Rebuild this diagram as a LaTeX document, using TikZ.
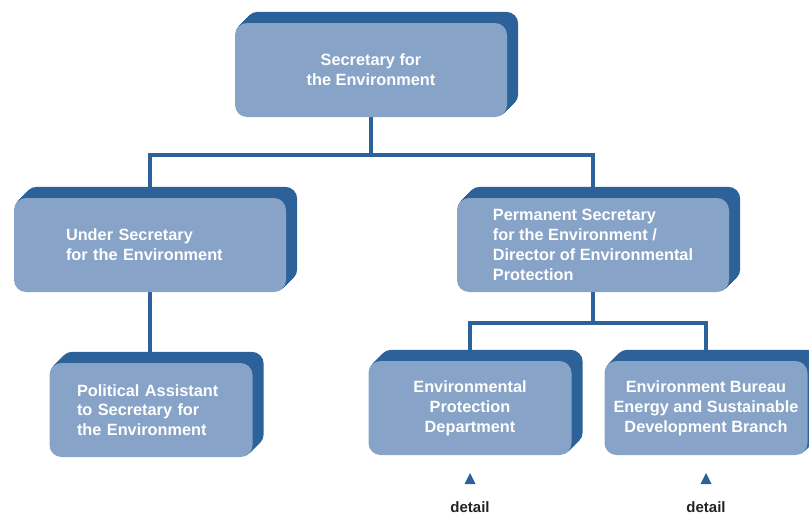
\documentclass[tikz,border=0pt]{standalone}
\usepackage{fontspec}
\setmainfont{Liberation Sans}
\usetikzlibrary{backgrounds}

\definecolor{boxblue}{RGB}{135,163,199}
\definecolor{deepblue}{RGB}{44,97,154}
\definecolor{labelgrey}{RGB}{35,35,35}

\tikzset{
  post/.style={fill=boxblue, rounded corners=12pt, minimum width=272pt, minimum height=94pt,
    inner sep=0pt, text=white, font=\bfseries\fontsize{16.3}{19.8}\selectfont},
  smallpost/.style={post, minimum width=203pt},
  link/.style={deepblue, line width=4.5pt},
  detaillabel/.style={anchor=base, text=labelgrey, font=\bfseries\fontsize{15}{18}\selectfont},
}

\begin{document}
\begin{tikzpicture}[x=1pt,y=-1pt]
    \useasboundingbox (0,0) rectangle (809,514);

    % Boxes
    \node[post, align=center] (sec) at (371,70) {Secretary for\\the Environment};
    \node[post, text width=168pt, align=left] (under) at (150,245) {Under Secretary\\for the Environment};
    \node[post, align=left] (perm) at (593,245) {Permanent Secretary\\for the Environment /\\Director of Environmental\\Protection};
    \node[smallpost, text width=148pt, align=left] (pa) at (151,410) {Political Assistant\\to Secretary for\\the Environment};
    \node[smallpost, align=center] (epd) at (470,408) {Environmental\\Protection\\Department};
    \node[smallpost, align=center] (eb) at (706,408) {Environment Bureau\\Energy and Sustainable\\Development Branch};

    \path (sec.south) ++(0,38) coordinate (topbus);
    \path (perm.south) ++(0,31) coordinate (midbus);

    \begin{scope}[on background layer]
        % Lines
        \draw[link] (sec.south) -- (topbus);
        \draw[link] (under.north) |- (topbus) -| (perm.north);
        \draw[link] (under.south) -- (under.south |- pa.north);
        \draw[link] (perm.south) -- (midbus);
        \draw[link] (epd.north) |- (midbus) -| (eb.north);

        % 3D edges
        \foreach \n in {sec,under,perm,pa,epd,eb}
            \foreach \k in {1,...,11}
                \fill[deepblue, rounded corners=12pt] ([shift={(\k,-\k)}]\n.south west) rectangle ([shift={(\k,-\k)}]\n.north east);
    \end{scope}

    % Detail markers
    \foreach \x/\n in {470/A,706/B} {
        \node[detaillabel] (det\n) at (\x,512) {detail};
        \fill[deepblue] (\x,473) -- ++(5.5,11) -- ++(-11,0) -- cycle;
    }
\end{tikzpicture}
\end{document}
